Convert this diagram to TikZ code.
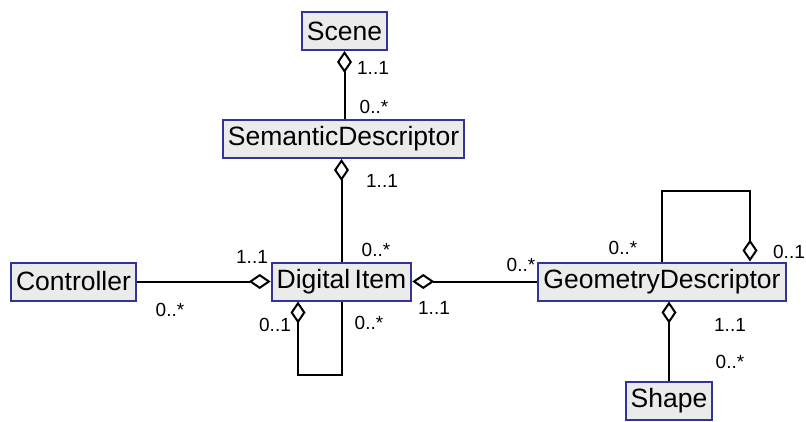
\documentclass[tikz,border=0pt]{standalone}
\usepackage{fontspec}
\setmainfont{Liberation Sans}
\usetikzlibrary{arrows.meta}
\definecolor{umlBorder}{RGB}{51,51,153}
\definecolor{umlFill}{RGB}{235,235,235}
\newcommand{\umlClassFont}{\fontsize{26.5}{30}\selectfont}
\newcommand{\umlMultFont}{\fontsize{19}{22}\selectfont}
\tikzset{umlDiamond/.tip={Diamond[open,length=22pt,width=15pt]}}

\begin{document}
\begin{tikzpicture}[x=1pt, y=1pt,
	umlClass/.style={draw=umlBorder, fill=umlFill, line width=2pt, inner xsep=5pt, minimum height=38pt, font=\umlClassFont},
	umlLine/.style={line width=2pt},
	umlAggregation/.style={umlLine, umlDiamond-},
	umlMult/.style={font=\umlMultFont, inner sep=0pt}]
		\useasboundingbox (0,0) rectangle (806,421);
		%classes
		\node[umlClass] (Scene) at (344.5,390) {Scene};
		\node[umlClass] (SemanticDescriptor) at (343.5,282) {SemanticDescriptor};
		\node[umlClass] (Controller) at (73.5,139.5) {Controller};
		\node[umlClass] (DigitalItem) at (341.5,139.5) {Digital\,Item};
		\node[umlClass] (GeometryDescriptor) at (662,139.5) {GeometryDescriptor};
		\node[umlClass] (Shape) at (669,20) {Shape};

		%multiplicities
		\node[umlMult] (sceneOne) at (373,353) {1..1};
		\node[umlMult] (semanticMany) at (374,314) {0..*};
		\node[umlMult] (semanticOne) at (382,240) {1..1};
		\node[umlMult] (itemSemanticMany) at (376,171) {0..*};
		\node[umlMult] (itemControllerOne) at (252,164) {1..1};
		\node[umlMult] (controllerMany) at (170,111) {0..*};
		\node[umlMult] (itemParentOpt) at (275,96) {0..1};
		\node[umlMult] (itemChildMany) at (369,98) {0..*};
		\node[umlMult] (itemGeometryOne) at (434,113) {1..1};
		\node[umlMult] (geometryMany) at (521,156) {0..*};
		\node[umlMult] (geometryChildMany) at (623,173) {0..*};
		\node[umlMult] (geometryParentOpt) at (789,169) {0..1};
		\node[umlMult] (geometryOne) at (730,96) {1..1};
		\node[umlMult] (shapeMany) at (730,59) {0..*};

		%aggregations
		\draw[umlAggregation] (Scene.south) -- (Scene.south |- SemanticDescriptor.north);
		\draw[umlAggregation] (SemanticDescriptor.south -| DigitalItem.north) -- (DigitalItem.north);
		\draw[umlLine, -umlDiamond] (Controller) -- (DigitalItem);
		\draw[umlAggregation] (DigitalItem) -- (GeometryDescriptor);
		\draw[umlAggregation] ([xshift=-43.5pt]DigitalItem.south) -- ++(0,-73) -| (DigitalItem.south);
		\draw[umlLine, -umlDiamond] (GeometryDescriptor.north) -- ++(0,70) -| ([xshift=88pt]GeometryDescriptor.north);
		\draw[umlAggregation] (GeometryDescriptor.south -| Shape.north) -- (Shape.north);
\end{tikzpicture}
\end{document}
